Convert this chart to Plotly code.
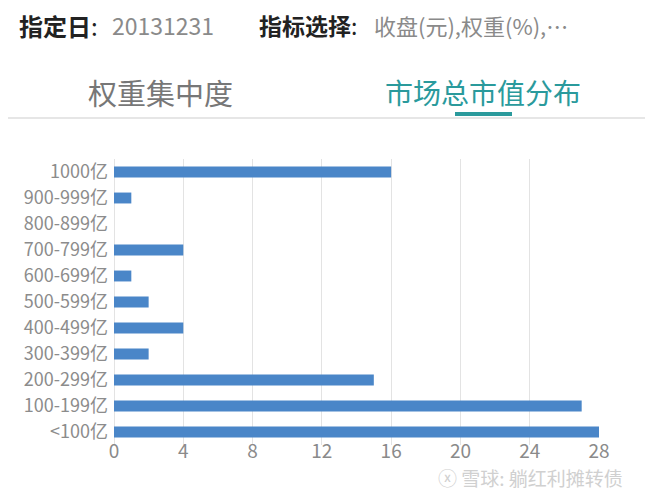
import plotly.graph_objects as go

categories = ["<100亿", "100-199亿", "200-299亿", "300-399亿", "400-499亿", "500-599亿",
              "600-699亿", "700-799亿", "800-899亿", "900-999亿", "1000亿"]
counts = [28, 27, 15, 2, 4, 2, 1, 4, 0, 1, 16]
x_ticks = [0, 4, 8, 12, 16, 20, 24, 28]

FONT = "Noto Sans CJK SC"
OFF = 8  # default page body margin
W, H = 660 - OFF, 502 - OFF
L, R, T, B = 114 - OFF, 61, 159 - OFF, 65 - OFF
PW, PH = W - L - R, H - T - B

def px(x):
    return (x - OFF - L) / PW

def py(y):
    return (H - B - (y - OFF)) / PH

fig = go.Figure()
fig.add_trace(go.Bar(
    y=categories, x=counts, orientation="h", width=0.42,
    marker=dict(color="#4a86c8", line=dict(width=0)),
))

fig.update_layout(
    width=W, height=H,
    margin=dict(l=L, r=R, t=T, b=B, autoexpand=False),
    paper_bgcolor="white", plot_bgcolor="white",
    showlegend=False,
    font=dict(family=FONT, color="#888888"),
    xaxis=dict(range=[0, 28], tickvals=x_ticks, showgrid=True, gridcolor="#e3e3e3",
               gridwidth=1, zeroline=True, zerolinecolor="#e3e3e3", zerolinewidth=1,
               tickfont=dict(size=19, color="#8a8a8a"), ticks="", ticklen=0,
               fixedrange=True, ticklabelstandoff=-7),
    yaxis=dict(showgrid=False, tickfont=dict(size=18, color="#8c8c8c"), ticks="",
               ticklen=0, range=[-0.5, 10.5], ticklabelstandoff=5),
)

anns = [
    dict(x=17, y=25, text="<b>指定日</b>: ", font=dict(size=24, color="#222222")),
    dict(x=110, y=25, text="20131231", font=dict(size=23, color="#8a8a8a")),
    dict(x=257, y=25, text="<b>指标选择</b>: ", font=dict(size=23, color="#222222")),
    dict(x=372, y=25, text="收盘(元),权重(%),…", font=dict(size=22, color="#8a8a8a")),
    dict(x=86, y=92, text="权重集中度", font=dict(size=29, color="#777777")),
    dict(x=383, y=92, text="市场总市值分布", font=dict(size=28, color="#2a9a9c")),
    dict(x=436, y=477, text="ⓧ 雪球: 躺红利摊转债", font=dict(size=19, color="#d0d0d0")),
]
for a in anns:
    fig.add_annotation(xref="paper", yref="paper", xanchor="left", yanchor="middle",
                       showarrow=False, x=px(a["x"]), y=py(a["y"]),
                       text=a["text"], font=dict(family=FONT, **a["font"]))

# separator and tab underline
fig.add_shape(type="line", xref="paper", yref="paper",
              x0=px(0), x1=px(645), y0=py(118), y1=py(118),
              line=dict(color="#e6e6e6", width=2))
fig.add_shape(type="line", xref="paper", yref="paper",
              x0=px(455), x1=px(512), y0=py(114), y1=py(114),
              line=dict(color="#2a9a9c", width=4))

fig.write_html("out.html")
